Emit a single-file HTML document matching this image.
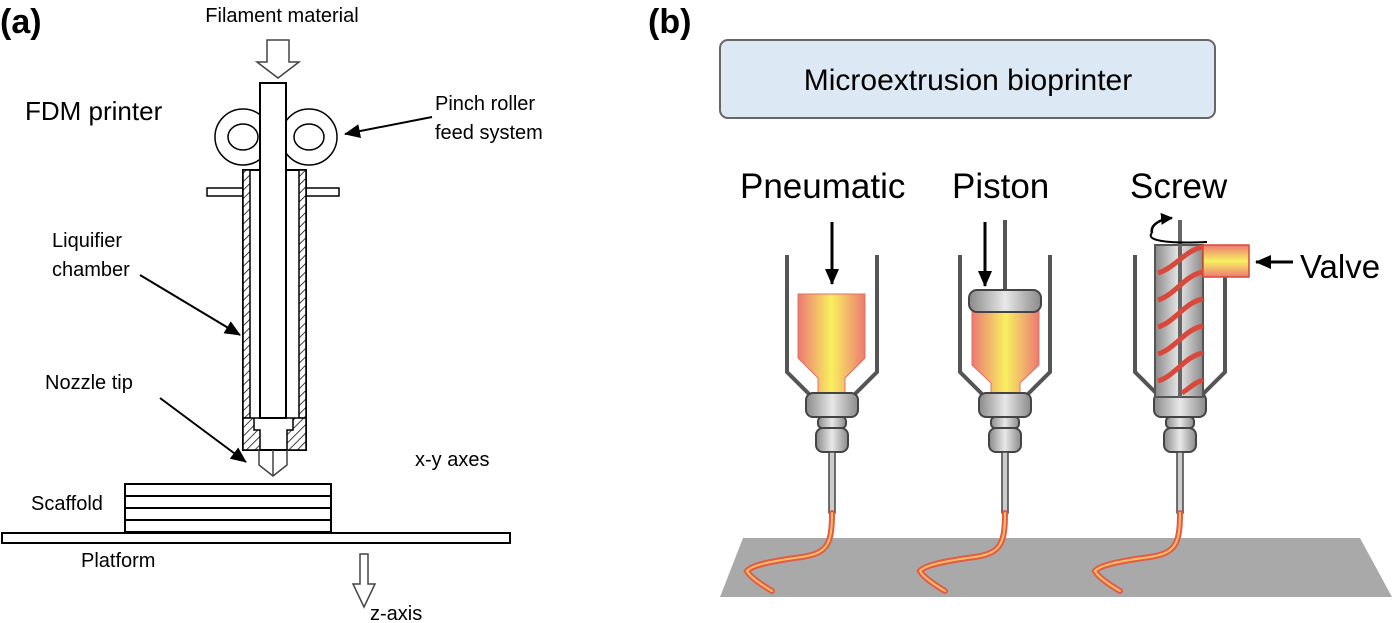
<!DOCTYPE html>
<html><head><meta charset="utf-8"><style>
html,body{margin:0;padding:0;background:#fff;}
svg{display:block;font-family:"Liberation Sans",Arial,sans-serif;}
</style></head><body>
<svg width="1394" height="623" viewBox="0 0 1394 623" xmlns="http://www.w3.org/2000/svg">
<defs>
<pattern id="hatch" width="6" height="6" patternUnits="userSpaceOnUse" patternTransform="rotate(45)">
<rect width="6" height="6" fill="#fff"/><line x1="0" y1="0" x2="0" y2="6" stroke="#000" stroke-width="1.5"/></pattern>
<linearGradient id="ink" x1="0" x2="1" y1="0" y2="0">
<stop offset="0" stop-color="#ec7a74"/><stop offset="0.5" stop-color="#f8f060"/><stop offset="1" stop-color="#ec7a74"/></linearGradient>
<linearGradient id="ink2" x1="0" x2="0" y1="0" y2="1">
<stop offset="0" stop-color="#ec7a74"/><stop offset="0.5" stop-color="#f8f060"/><stop offset="1" stop-color="#ec7a74"/></linearGradient>
<linearGradient id="metal" x1="0" x2="1" y1="0" y2="0">
<stop offset="0" stop-color="#8a8a8a"/><stop offset="0.5" stop-color="#e8e8e8"/><stop offset="1" stop-color="#8a8a8a"/></linearGradient>
<marker id="ah" markerWidth="16" markerHeight="14" refX="15" refY="7" orient="auto" markerUnits="userSpaceOnUse">
<path d="M0,0 L16,7 L0,14 z" fill="#000"/></marker>
<marker id="ahs" markerWidth="12" markerHeight="12" refX="11" refY="6" orient="auto" markerUnits="userSpaceOnUse">
<path d="M0,0 L12,6 L0,12 z" fill="#000"/></marker>
<marker id="ahb" markerWidth="16" markerHeight="14" refX="15" refY="7" orient="auto" markerUnits="userSpaceOnUse">
<path d="M0,0 L16,7 L0,14 z" fill="#000"/></marker>
<g id="nozzle">
<path d="M-45,-150 V-33 L-22,-10 M45,-150 V-33 L22,-10" fill="none" stroke="#555" stroke-width="4"/>
<rect x="-26" y="-12" width="52" height="24" rx="7" fill="url(#metal)" stroke="#444" stroke-width="2"/>
<rect x="-14" y="12" width="28" height="11" rx="4" fill="url(#metal)" stroke="#444" stroke-width="2"/>
<rect x="-16" y="23" width="32" height="24" rx="7" fill="url(#metal)" stroke="#444" stroke-width="2"/>
<rect x="-3" y="47" width="6" height="61" fill="#ccc" stroke="#444" stroke-width="1.5"/>
<path d="M0,108 C0,140 -5,148 -30,152 C-60,156 -80,160 -85,166 C-82,172 -70,180 -60,186" fill="none" stroke="#e45a4a" stroke-width="6" stroke-linecap="round"/>
<path d="M0,108 C0,140 -5,148 -30,152 C-60,156 -80,160 -85,166 C-82,172 -70,180 -60,186" fill="none" stroke="#f6c060" stroke-width="2" stroke-linecap="round"/>
</g>
</defs>

<!-- (a) panel -->
<text x="0" y="33" font-size="34" font-weight="bold">(a)</text>
<text x="282" y="22" font-size="20" text-anchor="middle">Filament material</text>
<path d="M267,40 H289 V62 H299 L278,78 L257,62 H267 Z" fill="#fff" stroke="#444" stroke-width="1.5"/>
<text x="25" y="120" font-size="26">FDM printer</text>
<text x="435" y="110" font-size="20">Pinch roller</text>
<text x="435" y="139" font-size="20">feed system</text>
<line x1="432" y1="117" x2="345" y2="134" stroke="#000" stroke-width="2" marker-end="url(#ahb)"/>
<circle cx="243" cy="137" r="28" fill="none" stroke="#000" stroke-width="1.5"/>
<ellipse cx="243" cy="137" rx="15" ry="13" fill="none" stroke="#000" stroke-width="1.5"/>
<circle cx="309" cy="137" r="28" fill="none" stroke="#000" stroke-width="1.5"/>
<ellipse cx="309" cy="137" rx="15" ry="13" fill="none" stroke="#000" stroke-width="1.5"/>
<rect x="207" y="188" width="132" height="8" fill="#fff" stroke="#000" stroke-width="1.5"/>
<rect x="243" y="170" width="63" height="280" fill="#fff" stroke="#000" stroke-width="2"/>
<rect x="243" y="170" width="7" height="248" fill="url(#hatch)" stroke="#000" stroke-width="1.5"/>
<rect x="299" y="170" width="7" height="248" fill="url(#hatch)" stroke="#000" stroke-width="1.5"/>
<path d="M243,418 H306 V450 H287 V430 H293 V418 H254 V430 H260 V450 H243 Z" fill="url(#hatch)" stroke="#000" stroke-width="1.5"/>
<rect x="260" y="83" width="26" height="335" fill="#fff" stroke="#000" stroke-width="2"/>
<path d="M259,450 V465 L273,476 L287,465 V450 M273,450 V476" fill="none" stroke="#444" stroke-width="1.5"/>
<text x="52" y="247" font-size="20">Liquifier</text>
<text x="52" y="276" font-size="20">chamber</text>
<line x1="140" y1="275" x2="240" y2="335" stroke="#000" stroke-width="2" marker-end="url(#ahb)"/>
<text x="45" y="389" font-size="20">Nozzle tip</text>
<line x1="160" y1="398" x2="246" y2="462" stroke="#000" stroke-width="2" marker-end="url(#ahb)"/>
<text x="415" y="466" font-size="20">x-y axes</text>
<rect x="125" y="484" width="206" height="48" fill="#fff" stroke="#000" stroke-width="2"/>
<line x1="125" y1="496" x2="331" y2="496" stroke="#000" stroke-width="2"/>
<line x1="125" y1="508" x2="331" y2="508" stroke="#000" stroke-width="2"/>
<line x1="125" y1="520" x2="331" y2="520" stroke="#000" stroke-width="2"/>
<rect x="2" y="533" width="508" height="10" fill="#fff" stroke="#000" stroke-width="2"/>
<text x="31" y="510" font-size="20">Scaffold</text>
<text x="81" y="567" font-size="20">Platform</text>
<path d="M360,554 H368 V584 H375 L364,607 L353,584 H360 Z" fill="#fff" stroke="#444" stroke-width="1.5"/>
<text x="370" y="620" font-size="20">z-axis</text>

<!-- (b) panel -->
<text x="648" y="33" font-size="34" font-weight="bold">(b)</text>
<rect x="720" y="40" width="495" height="78" rx="8" fill="#dce8f3" stroke="#666" stroke-width="2"/>
<text x="968" y="90" font-size="30" text-anchor="middle">Microextrusion bioprinter</text>
<text x="740" y="198" font-size="35">Pneumatic</text>
<text x="952" y="198" font-size="35">Piston</text>
<text x="1130" y="198" font-size="35">Screw</text>
<text x="1300" y="278" font-size="33">Valve</text>
<polygon points="743,538 1360,538 1392,597 720,597" fill="#a9a9a9"/>

<!-- pneumatic -->
<path d="M798,294 H865 V358 L845,378 V395 H818 V378 L798,358 Z" fill="url(#ink)" stroke="#e07060" stroke-width="1"/>
<line x1="832" y1="222" x2="832" y2="284" stroke="#000" stroke-width="3" marker-end="url(#ah)"/>
<use href="#nozzle" x="832" y="405"/>

<!-- piston -->
<path d="M972,308 H1039 V365 L1020,383 V395 H991 V383 L972,365 Z" fill="url(#ink)" stroke="#e07060" stroke-width="1"/>
<line x1="1005" y1="220" x2="1005" y2="290" stroke="#555" stroke-width="4"/>
<rect x="969" y="290" width="72" height="22" rx="8" fill="url(#metal)" stroke="#444" stroke-width="2"/>
<line x1="985" y1="222" x2="985" y2="286" stroke="#000" stroke-width="3" marker-end="url(#ah)"/>
<use href="#nozzle" x="1005" y="405"/>

<!-- screw -->
<use href="#nozzle" x="1180" y="405"/>
<rect x="1155" y="245" width="48" height="152" fill="url(#metal)" stroke="#555" stroke-width="2"/>
<line x1="1180" y1="220" x2="1180" y2="397" stroke="#666" stroke-width="4"/>
<g fill="none" stroke="#d9483a" stroke-width="5">
<path d="M1158,273 C1175,268 1185,250 1203,247"/>
<path d="M1158,300 C1175,295 1185,275 1203,272"/>
<path d="M1158,327 C1175,322 1185,302 1203,299"/>
<path d="M1158,354 C1175,349 1185,329 1203,326"/>
<path d="M1158,381 C1175,376 1185,356 1203,353"/>
<path d="M1182,393 C1190,388 1195,382 1203,380"/>
</g>
<rect x="1203" y="245" width="46" height="32" fill="url(#ink2)" stroke="#d9483a" stroke-width="1.5"/>
<path d="M1152,233 C1145,240 1165,244 1207,242" fill="none" stroke="#000" stroke-width="2"/>
<path d="M1152,233 C1150,225 1160,219 1172,218" fill="none" stroke="#000" stroke-width="2.5" marker-end="url(#ahs)"/>
<line x1="1293" y1="262" x2="1256" y2="262" stroke="#000" stroke-width="3" marker-end="url(#ah)"/>
</svg>
</body></html>
